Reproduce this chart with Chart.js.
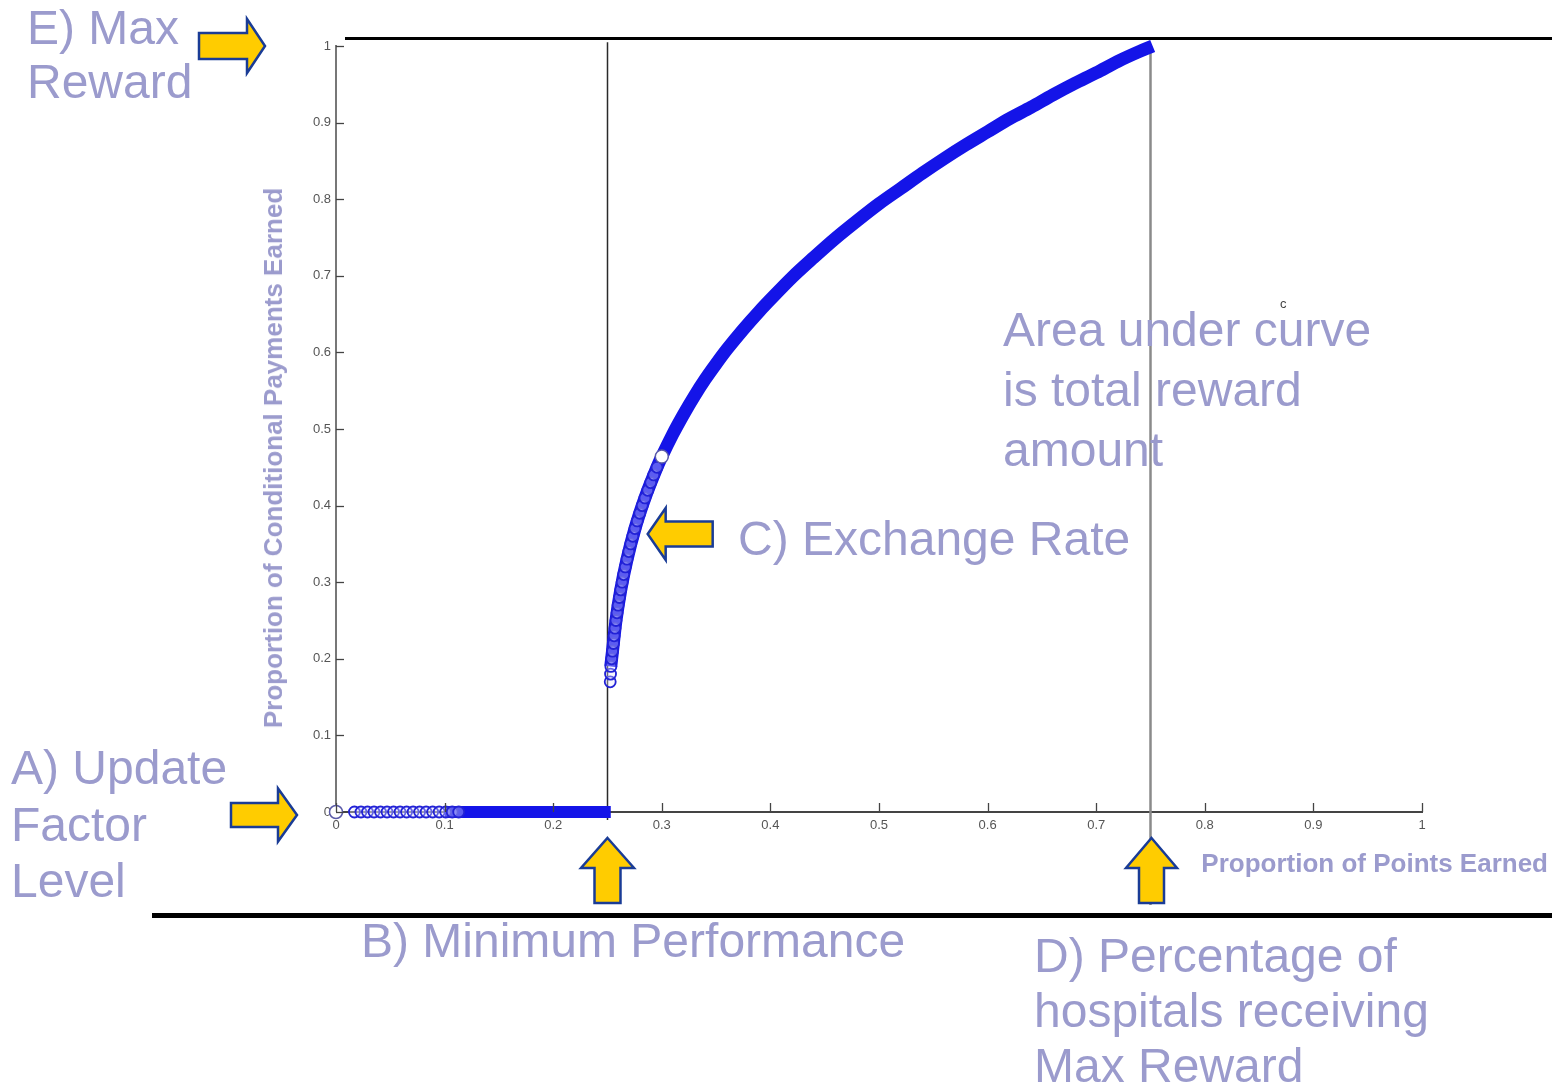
<!DOCTYPE html>
<html>
<head>
<meta charset="utf-8">
<script src="https://cdn.jsdelivr.net/npm/chart.js@4.4.1/dist/chart.umd.min.js"></script>
<style>
  html, body { margin:0; padding:0; background:#fff; }
  #wrap { position:relative; width:1552px; height:1086px; overflow:hidden; background:#fff; }
  #c { position:absolute; left:0; top:0; }
  .note { position:absolute; font-family:"Liberation Sans", Arial, sans-serif; font-size:48px; color:#9b9bcd; white-space:nowrap; }
  .axt { position:absolute; font-family:"Liberation Sans", Arial, sans-serif; font-weight:bold; font-size:26px; line-height:26px; color:#9b9bcd; white-space:nowrap; }
  .rule { position:absolute; background:#000; }
</style>
</head>
<body>
<div id="wrap">
  <canvas id="c" width="1552" height="1086"></canvas>

  <div class="rule" style="left:345px; top:37px; width:1207px; height:3px;"></div>
  <div class="rule" style="left:152px; top:913px; width:1400px; height:5px;"></div>

  <div class="axt" id="ytitle" style="left:273px; top:458px; transform:translate(-50%,-50%) rotate(-90deg);">Proportion of Conditional Payments Earned</div>
  <div class="axt" style="right:4px; top:850px;">Proportion of Points Earned</div>

  <div class="note" style="left:27px; top:1px; line-height:54px;">E) Max<br>Reward</div>
  <div class="note" style="left:11px; top:740px; line-height:56.5px;">A) Update<br>Factor<br>Level</div>
  <div class="note" style="left:361px; top:917px; line-height:48px;">B) Minimum Performance</div>
  <div class="note" style="left:738px; top:515px; line-height:48px;">C) Exchange Rate</div>
  <div class="note" style="left:1034px; top:928px; line-height:55px;">D) Percentage of<br>hospitals receiving<br>Max Reward</div>
  <div class="note" style="left:1003px; top:300px; line-height:60px;">Area under curve<br>is total reward<br>amount</div>
  <div style="position:absolute; left:1280px; top:296px; font-family:'Liberation Sans',Arial,sans-serif; font-size:13px; color:#444;">c</div>
</div>

<script>
// ---- data ----
const xTickValues = [0, 0.1, 0.2, 0.3, 0.4, 0.5, 0.6, 0.7, 0.8, 0.9, 1];
const yTickValues = [0, 0.1, 0.2, 0.3, 0.4, 0.5, 0.6, 0.7, 0.8, 0.9, 1];

// hospitals below minimum performance: reward 0 (dense band)
const flatBandX = [0.100, 0.140, 0.180, 0.220, 0.253];
const flatBandY = [0, 0, 0, 0, 0];

// exchange-rate curve (dense band of hospitals)
const curveX = [0.2530, 0.2546, 0.2578, 0.2622, 0.2680, 0.2753, 0.2845, 0.2956, 0.300,
                0.310, 0.320, 0.330, 0.340, 0.350, 0.360, 0.375, 0.390, 0.400, 0.420,
                0.440, 0.460, 0.480, 0.500, 0.520, 0.540, 0.560, 0.580, 0.600, 0.620,
                0.640, 0.660, 0.680, 0.700, 0.720, 0.740, 0.752];
const curveY = [0.190, 0.210, 0.250, 0.290, 0.330, 0.370, 0.410, 0.450, 0.464,
                0.493, 0.519, 0.543, 0.565, 0.585, 0.604, 0.630, 0.654, 0.669, 0.698,
                0.724, 0.749, 0.772, 0.794, 0.814, 0.834, 0.853, 0.871, 0.888, 0.905,
                0.920, 0.936, 0.951, 0.965, 0.980, 0.993, 1.000];

// individually visible open-circle hospitals
const ringX = [0.017, 0.023, 0.029, 0.035, 0.041, 0.047, 0.053, 0.059, 0.065, 0.071,
               0.077, 0.083, 0.089, 0.095, 0.101, 0.107, 0.113,
               0.2525, 0.2528, 0.2531, 0.2538, 0.2546, 0.2555, 0.2561, 0.2569, 0.2578,
               0.2588, 0.2598, 0.2610, 0.2622, 0.2635, 0.2649, 0.2664, 0.2680, 0.2696,
               0.2714, 0.2733, 0.2753, 0.2774, 0.2797, 0.2820, 0.2845, 0.2871, 0.2898,
               0.2926, 0.2956];
const ringY = [0, 0, 0, 0, 0, 0, 0, 0, 0, 0,
               0, 0, 0, 0, 0, 0, 0,
               0.170, 0.180, 0.190, 0.200, 0.210, 0.220, 0.230, 0.240, 0.250,
               0.260, 0.270, 0.280, 0.290, 0.300, 0.310, 0.320, 0.330, 0.340,
               0.350, 0.360, 0.370, 0.380, 0.390, 0.400, 0.410, 0.420, 0.430,
               0.440, 0.450];

// highlighted (white) points
const markX = [0, 0.300];
const markY = [0, 0.464];

// reference lines and annotation anchors (data units)
const minPerformanceX = 0.25;
const maxRewardX = 0.75;
const maxRewardY = 1;
const updateFactorY = 0;
const exchangeArrowAt = { x: 0.287, y: 0.363 };

// ---- build ----
const pts = (xs, ys) => xs.map((x, i) => ({ x: x, y: ys[i] }));
const BLUE = '#1414e8';

const decor = {
  id: 'decor',
  beforeDatasetsDraw(chart) {
    const { ctx, scales: { x, y } } = chart;
    ctx.save();
    ctx.strokeStyle = '#2a2a2a';
    ctx.lineWidth = 1.5;
    let px = x.getPixelForValue(minPerformanceX);
    ctx.beginPath(); ctx.moveTo(px, y.getPixelForValue(1.005)); ctx.lineTo(px, y.getPixelForValue(0) + 8); ctx.stroke();
    ctx.strokeStyle = '#8a8a8a';
    ctx.lineWidth = 2.5;
    px = x.getPixelForValue(maxRewardX);
    ctx.beginPath(); ctx.moveTo(px, y.getPixelForValue(1)); ctx.lineTo(px, 905); ctx.stroke();
    ctx.restore();
  },
  afterDraw(chart) {
    const { ctx, scales: { x, y } } = chart;
    ctx.save();
    ctx.strokeStyle = '#444';
    ctx.lineWidth = 1.3;
    const yb = y.getPixelForValue(0), xl = x.getPixelForValue(0);
    x.ticks.forEach(t => {
      const p = Math.round(x.getPixelForValue(t.value)) + 0.5;
      ctx.beginPath(); ctx.moveTo(p, yb); ctx.lineTo(p, yb - 9); ctx.stroke();
    });
    y.ticks.forEach(t => {
      const p = Math.round(y.getPixelForValue(t.value)) + 0.5;
      ctx.beginPath(); ctx.moveTo(xl, p); ctx.lineTo(xl + 8, p); ctx.stroke();
    });

    function arrow(tx, ty, dx, dy, len, headLen, headHalf, shaftHalf) {
      const px = -dy, py = dx;
      const P = (a, b) => [tx - dx * a + px * b, ty - dy * a + py * b];
      const poly = [P(0, 0), P(headLen, headHalf), P(headLen, shaftHalf), P(len, shaftHalf),
                    P(len, -shaftHalf), P(headLen, -shaftHalf), P(headLen, -headHalf)];
      ctx.beginPath();
      poly.forEach((q, i) => i ? ctx.lineTo(q[0], q[1]) : ctx.moveTo(q[0], q[1]));
      ctx.closePath();
      ctx.fillStyle = '#ffcc00';
      ctx.fill();
      ctx.strokeStyle = '#1a3c96';
      ctx.lineWidth = 2.5;
      ctx.lineJoin = 'miter';
      ctx.stroke();
    }
    arrow(265, y.getPixelForValue(maxRewardY), 1, 0, 66, 18, 27, 13);
    arrow(297, y.getPixelForValue(updateFactorY) + 3, 1, 0, 66, 19, 26.5, 12);
    arrow(x.getPixelForValue(exchangeArrowAt.x), y.getPixelForValue(exchangeArrowAt.y), -1, 0, 65, 18, 26, 12.5);
    arrow(x.getPixelForValue(minPerformanceX), 838, 0, -1, 65, 30, 26.5, 13);
    arrow(x.getPixelForValue(maxRewardX) + 1, 838, 0, -1, 65, 30, 25.5, 12.5);
    ctx.restore();
  }
};

const fmt = v => String(Math.round(v * 10) / 10);

new Chart(document.getElementById('c'), {
  type: 'scatter',
  data: {
    datasets: [
      { label: 'marked', data: pts(markX, markY), order: 0, clip: false,
        pointRadius: 6.5, pointBorderWidth: 1.5, pointBorderColor: '#5a5aa8', pointBackgroundColor: '#ffffff' },
      { label: 'hospitals', data: pts(ringX, ringY), order: 1, clip: false,
        pointRadius: 5.5, pointBorderWidth: 1.8, pointBorderColor: '#2222d6', pointBackgroundColor: 'rgba(225,225,255,0.35)' },
      { label: 'curve', data: pts(curveX, curveY), order: 2, clip: false, showLine: true,
        cubicInterpolationMode: 'monotone', borderColor: BLUE, borderWidth: 13, pointRadius: 0, borderCapStyle: 'butt' },
      { label: 'zero', data: pts(flatBandX, flatBandY), order: 2, clip: false, showLine: true,
        borderColor: BLUE, borderWidth: 12, pointRadius: 0, borderCapStyle: 'butt' }
    ]
  },
  options: {
    responsive: false,
    animation: false,
    events: [],
    layout: { padding: { left: 251, top: 46, right: 130, bottom: 234 } },
    plugins: { legend: { display: false }, tooltip: { enabled: false } },
    scales: {
      x: {
        type: 'linear', min: 0, max: 1,
        afterBuildTicks: s => { s.ticks = xTickValues.map(v => ({ value: v })); },
        afterFit: s => { s.height = 40; },
        grid: { display: false, drawTicks: false },
        border: { display: true, color: '#444', width: 2 },
        ticks: { padding: 6, color: '#555', font: { family: "'Liberation Sans Narrow', 'Liberation Sans', Arial", size: 13 }, callback: fmt, maxRotation: 0, autoSkip: false }
      },
      y: {
        type: 'linear', min: 0, max: 1,
        afterBuildTicks: s => { s.ticks = yTickValues.map(v => ({ value: v })); },
        afterFit: s => { s.width = 85; },
        grid: { display: false, drawTicks: false },
        border: { display: true, color: '#777', width: 2 },
        ticks: { padding: 5, color: '#555', font: { family: "'Liberation Sans Narrow', 'Liberation Sans', Arial", size: 13 }, callback: fmt, autoSkip: false }
      }
    }
  },
  plugins: [decor]
});
</script>
</body>
</html>
